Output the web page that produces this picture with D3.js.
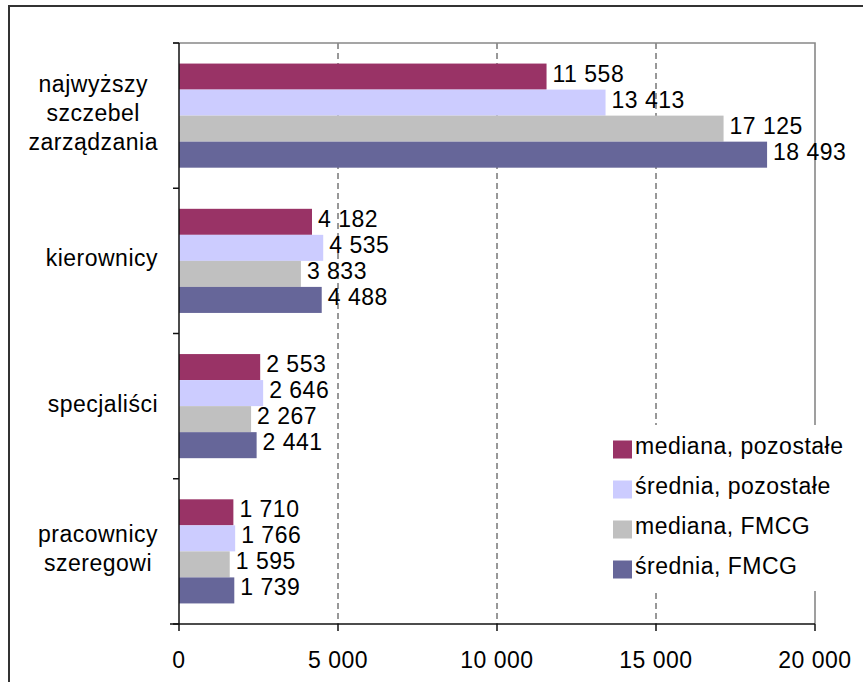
<!DOCTYPE html>
<html>
<head>
<meta charset="utf-8">
<script src="https://cdn.jsdelivr.net/npm/d3@7"></script>
<style>
  html, body { margin: 0; padding: 0; background: #fff; }
  svg text { font-family: "Liberation Sans", Arial, sans-serif; font-size: 23px; letter-spacing: 0.5px; fill: #000; }
</style>
</head>
<body>
<svg id="chart" width="863" height="682"></svg>
<script>
const categories = [
  ["najwyższy", "szczebel", "zarządzania"],
  ["kierownicy"],
  ["specjaliści"],
  ["pracownicy", "szeregowi"]
];
const categoryKeys = ["najwyższy szczebel zarządzania", "kierownicy", "specjaliści", "pracownicy szeregowi"];
const seriesNames = ["mediana, pozostałe", "średnia, pozostałe", "mediana, FMCG", "średnia, FMCG"];
const seriesColors = ["#993366", "#CCCCFF", "#C0C0C0", "#666699"];
const medianaPozostale = [11558, 4182, 2553, 1710];
const sredniaPozostale = [13413, 4535, 2646, 1766];
const medianaFMCG = [17125, 3833, 2267, 1595];
const sredniaFMCG = [18493, 4488, 2441, 1739];
const xTicks = [0, 5000, 10000, 15000, 20000];

const seriesValues = [medianaPozostale, sredniaPozostale, medianaFMCG, sredniaFMCG];

const locale = d3.formatLocale({decimal: ",", thousands: " ", grouping: [3], currency: ["", ""]});
const fmt = locale.format(",d");

const svg = d3.select("#chart");

// outer frame
svg.append("rect").attr("x", 9).attr("y", 6).attr("width", 900).attr("height", 700)
  .attr("fill", "#fff").attr("stroke", "#333").attr("stroke-width", 2);

const x = d3.scaleLinear().domain([0, 20000]).range([179, 815]);
const y = d3.scaleBand().domain(categoryKeys).range([43, 624]).paddingInner(0).paddingOuter(0);
const ySub = d3.scaleBand().domain(seriesNames).range([0, y.bandwidth()]).paddingInner(0).paddingOuter(0.79);

// gridlines (dashed)
svg.append("g").selectAll("line").data(xTicks.filter(t => t > 0 && t < 20000)).join("line")
  .attr("x1", d => x(d)).attr("x2", d => x(d)).attr("y1", 43).attr("y2", 624)
  .attr("stroke", "#333").attr("stroke-width", 1).attr("stroke-dasharray", "6,4");

// plot border top and right
svg.append("path").attr("d", `M173,43H${x(20000)}V624`).attr("fill", "none")
  .attr("stroke", "#888").attr("stroke-width", 1.6);

// bars
const groups = svg.append("g").selectAll("g").data(categoryKeys).join("g")
  .attr("transform", d => `translate(0,${y(d)})`);

groups.each(function(cat, ci) {
  const g = d3.select(this);
  seriesNames.forEach((s, si) => {
    const v = seriesValues[si][ci];
    g.append("rect").attr("x", x(0)).attr("y", ySub(s))
      .attr("width", x(v) - x(0)).attr("height", ySub.bandwidth())
      .attr("fill", seriesColors[si]);
    g.append("text").attr("x", x(v) + 6).attr("y", ySub(s) + ySub.bandwidth() / 2 + 5)
      .text(fmt(v));
  });
});

// left axis
const yAxisG = svg.append("g");
yAxisG.append("line").attr("x1", x(0)).attr("x2", x(0)).attr("y1", 43).attr("y2", 624)
  .attr("stroke", "#111").attr("stroke-width", 1.5);
const bounds = categoryKeys.map(c => y(c)).concat([y.range()[1]]);
yAxisG.selectAll("line.tick").data(bounds).join("line").attr("class", "tick")
  .attr("x1", 173).attr("x2", x(0)).attr("y1", d => d).attr("y2", d => d)
  .attr("stroke", "#111").attr("stroke-width", 1.5);

// category labels
categories.forEach((lines, ci) => {
  const cy = y(categoryKeys[ci]) + y.bandwidth() / 2;
  const g = svg.append("g");
  const n = lines.length;
  const ts = lines.map((t, li) => g.append("text")
    .attr("y", cy + 5.5 + (li - (n - 1) / 2) * 29)
    .attr("text-anchor", "middle").text(t));
  const maxW = d3.max(ts, t => t.node().getComputedTextLength());
  ts.forEach(t => t.attr("x", 158 - maxW / 2));
});

// bottom axis
const xAxisG = svg.append("g");
xAxisG.append("line").attr("x1", 170).attr("x2", x(20000)).attr("y1", 624).attr("y2", 624)
  .attr("stroke", "#111").attr("stroke-width", 1.5);
xAxisG.selectAll("line.tick").data(xTicks).join("line").attr("class", "tick")
  .attr("x1", d => x(d)).attr("x2", d => x(d)).attr("y1", 624).attr("y2", 631)
  .attr("stroke", "#111").attr("stroke-width", 1.5);
xAxisG.selectAll("text").data(xTicks).join("text")
  .attr("x", d => x(d)).attr("y", 668).attr("text-anchor", "middle").text(d => fmt(d));

// legend
const lg = svg.append("g");
lg.append("rect").attr("x", 605).attr("y", 425).attr("width", 250).attr("height", 166).attr("fill", "#fff");
seriesNames.forEach((s, i) => {
  const cy = 449.5 + i * 40;
  lg.append("rect").attr("x", 613).attr("y", cy - 9).attr("width", 19).attr("height", 18).attr("fill", seriesColors[i]);
  lg.append("text").attr("x", 635).attr("y", cy + 4).text(s);
});
</script>
</body>
</html>
